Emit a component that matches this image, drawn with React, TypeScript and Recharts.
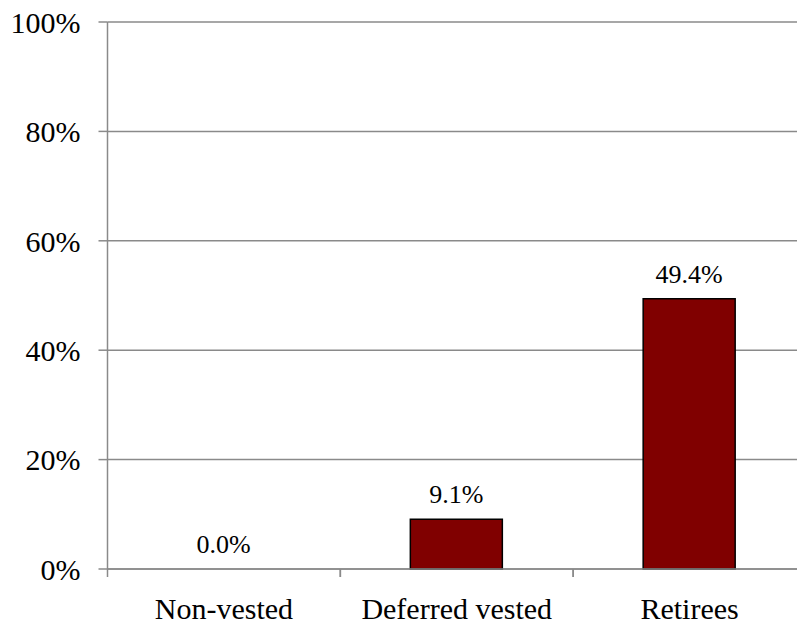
import React from "react";
import {
  Bar,
  BarChart,
  CartesianGrid,
  LabelList,
  XAxis,
  YAxis,
} from "recharts";

const categories = ["Non-vested", "Deferred vested", "Retirees"];
const shares = [0.0, 9.1, 49.4];
const yTicks = [0, 20, 40, 60, 80, 100];

const data = categories.map((name, i) => ({ name, value: shares[i] }));

const CHART_W = 820;
const CHART_H = 624;
const MARGIN = { top: 22, right: 14, bottom: 0, left: 7 };
const Y_AXIS_W = 100.5;
const GRAY = "#8a8a8a";
const FONT = "'Liberation Serif', 'DejaVu Serif', 'Times New Roman', Times, serif";

const BAND =
  (CHART_W - MARGIN.left - MARGIN.right - Y_AXIS_W) / categories.length;

function CategoryTick(props: any) {
  const { x, y, payload } = props;
  const axisY = y - 29;
  const left = x - BAND / 2;
  return (
    <g>
      <line x1={left} x2={left} y1={axisY} y2={axisY + 8} stroke={GRAY} strokeWidth={1.5} />
      <line x1={left + BAND} x2={left + BAND} y1={axisY} y2={axisY + 8} stroke={GRAY} strokeWidth={1.5} />
      <text x={x} y={y} dy={21} textAnchor="middle" fill="#000" fontSize={30} style={{ fontFamily: FONT }}>
        {payload.value}
      </text>
    </g>
  );
}

function YTick(props: any) {
  const { x, y, payload } = props;
  return (
    <text x={x} y={y} dy="0.36em" textAnchor="end" fill="#000" fontSize={30} style={{ fontFamily: FONT }}>
      {`${payload.value}%`}
    </text>
  );
}

function ValueLabel(props: any) {
  const { x, y, width, value } = props;
  return (
    <text
      x={x + width / 2}
      y={y - 15}
      textAnchor="middle"
      fill="#000"
      fontSize={26}
      style={{ fontFamily: FONT }}
    >
      {`${Number(value).toFixed(1)}%`}
    </text>
  );
}

export default function App() {
  return (
    <div
      style={{
        position: "absolute",
        left: 0,
        top: 0,
        width: 797,
        height: 624,
        overflow: "hidden",
        background: "#fff",
      }}
    >
      <BarChart width={CHART_W} height={CHART_H} data={data} margin={MARGIN}>
        <CartesianGrid vertical={false} stroke={GRAY} strokeWidth={1.5} />
        <XAxis
          dataKey="name"
          height={55}
          tickSize={0}
          tickMargin={29}
          tickLine={false}
          axisLine={{ stroke: GRAY, strokeWidth: 1.5 }}
          tick={<CategoryTick />}
          interval={0}
        />
        <YAxis
          width={Y_AXIS_W}
          domain={[0, 100]}
          ticks={yTicks}
          interval={0}
          tickSize={9}
          tickMargin={18}
          tickLine={{ stroke: GRAY, strokeWidth: 1.5 }}
          axisLine={{ stroke: GRAY, strokeWidth: 1.5 }}
          tick={<YTick />}
        />
        <Bar
          dataKey="value"
          stackId="s"
          barSize={92}
          fill="#800000"
          stroke="#000"
          strokeWidth={1.5}
          isAnimationActive={false}
        />
        {/* invisible cap so the label also shows above the zero-height bar */}
        <Bar
          dataKey={() => 0}
          stackId="s"
          barSize={92}
          minPointSize={1}
          fill="none"
          stroke="none"
          isAnimationActive={false}
        >
          <LabelList dataKey="value" content={<ValueLabel />} />
        </Bar>
      </BarChart>
    </div>
  );
}
